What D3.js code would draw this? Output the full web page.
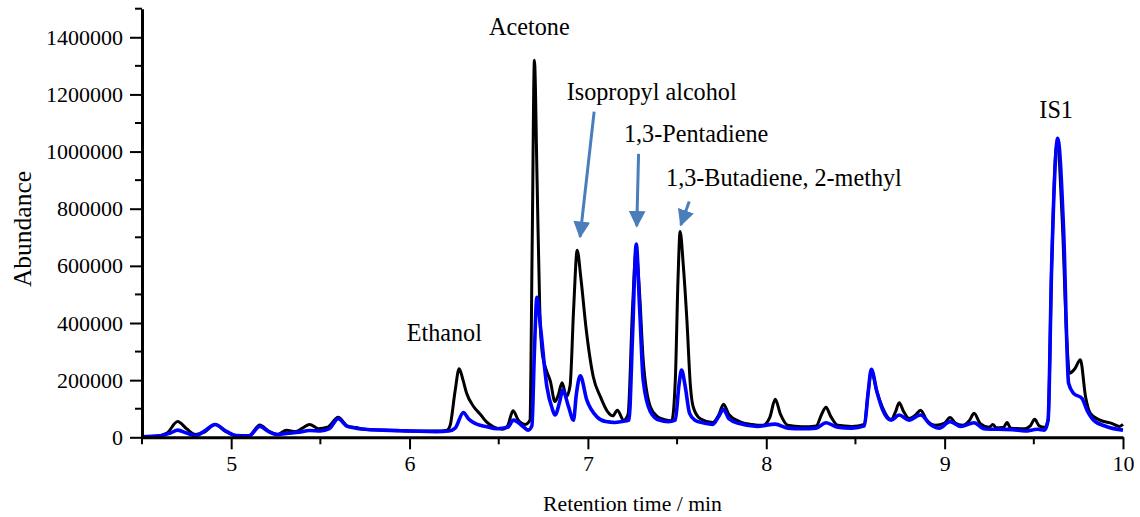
<!DOCTYPE html>
<html>
<head>
<meta charset="utf-8">
<script src="https://cdn.jsdelivr.net/npm/d3@7"></script>
<style>
  html, body { margin: 0; padding: 0; background: #fff; }
  svg { display: block; }
  text { font-family: "Liberation Serif", "DejaVu Serif", "Times New Roman", serif; fill: #000; }
</style>
</head>
<body>
<svg id="chart" width="1140" height="517"></svg>
<script>
// Chromatogram of two samples: retention time (min) vs. abundance
const sampleATime = [4.50,4.58,4.64,4.70,4.75,4.80,4.85,4.91,4.97,5.03,5.10,5.16,5.21,5.26,5.31,5.36,5.40,5.44,5.49,5.54,5.60,5.65,5.70,5.75,5.85,5.95,6.05,6.15,6.21,6.227,6.255,6.278,6.30,6.32,6.36,6.40,6.43,6.47,6.52,6.55,6.58,6.61,6.65,6.675,6.688,6.70,6.715,6.73,6.745,6.77,6.79,6.815,6.835,6.855,6.88,6.90,6.92,6.94,6.96,6.99,7.03,7.07,7.11,7.14,7.165,7.20,7.225,7.25,7.27,7.29,7.31,7.35,7.39,7.43,7.47,7.49,7.505,7.517,7.535,7.555,7.575,7.59,7.63,7.70,7.735,7.76,7.79,7.85,7.92,7.98,8.02,8.05,8.08,8.12,8.20,8.28,8.31,8.335,8.36,8.40,8.48,8.55,8.57,8.59,8.62,8.65,8.70,8.725,8.745,8.77,8.80,8.84,8.865,8.90,8.95,9.00,9.03,9.06,9.10,9.14,9.165,9.20,9.25,9.27,9.29,9.33,9.35,9.37,9.45,9.48,9.505,9.53,9.56,9.58,9.60,9.63,9.66,9.685,9.70,9.73,9.761,9.79,9.817,9.87,9.94,9.98,10.00];
const sampleAAbundance = [3000,4000,15000,55000,30000,10000,18000,45000,20000,6000,6000,43000,22000,10000,25000,20000,32000,45000,30000,35000,70000,40000,34000,28000,25000,23000,22000,22000,25000,40000,160000,240000,200000,154000,107000,78000,55000,37000,28000,40000,93000,60000,45000,60000,700000,1320000,900000,450000,290000,230000,195000,125000,150000,191000,142000,180000,450000,655000,560000,380000,212000,142000,90000,75000,95000,60000,80000,450000,650000,500000,270000,107000,72000,62000,58000,200000,550000,720000,600000,410000,177000,107000,65000,52000,80000,116000,80000,55000,45000,42000,70000,133000,80000,42000,37000,40000,80000,105000,75000,42000,38000,45000,150000,232000,160000,107000,62000,90000,121000,90000,66000,80000,95000,60000,42000,50000,69000,50000,42000,60000,84000,48000,35000,45000,33000,35000,52000,32000,30000,40000,63000,40000,35000,60000,600000,1030000,750000,340000,224000,240000,271000,142000,84000,60000,48000,38000,45000];

const sampleBTime = [4.50,4.60,4.66,4.70,4.75,4.80,4.85,4.91,4.97,5.03,5.10,5.16,5.21,5.26,5.32,5.38,5.44,5.50,5.55,5.60,5.65,5.70,5.75,5.85,5.95,6.05,6.15,6.22,6.256,6.302,6.33,6.349,6.38,6.433,6.49,6.55,6.583,6.638,6.665,6.686,6.70,6.714,6.735,6.77,6.80,6.816,6.84,6.859,6.89,6.919,6.935,6.957,6.994,7.05,7.10,7.15,7.19,7.23,7.25,7.271,7.29,7.31,7.35,7.40,7.45,7.49,7.51,7.525,7.545,7.57,7.60,7.65,7.70,7.735,7.76,7.79,7.85,7.95,8.05,8.12,8.20,8.28,8.335,8.40,8.48,8.55,8.57,8.589,8.62,8.65,8.70,8.745,8.80,8.865,8.92,8.97,9.03,9.09,9.165,9.22,9.30,9.38,9.45,9.52,9.56,9.58,9.60,9.634,9.667,9.695,9.723,9.77,9.798,9.835,9.91,10.00];
const sampleBAbundance = [2000,5000,15000,25000,15000,6000,22000,45000,22000,6000,5000,38000,20000,10000,14000,18000,24000,22000,30000,65000,38000,32000,28000,25000,23000,21000,20000,22000,32000,87000,65000,55000,45000,37000,30000,35000,60000,37000,25000,40000,300000,490000,380000,177000,100000,78000,120000,165000,110000,60000,150000,215000,130000,72000,55000,52000,55000,60000,350000,676000,450000,200000,90000,60000,55000,60000,180000,235000,180000,84000,60000,50000,45000,75000,98000,65000,48000,38000,46000,32000,30000,32000,51000,35000,32000,40000,150000,238000,160000,100000,60000,78000,60000,78000,45000,32000,55000,38000,51000,30000,28000,27000,22000,28000,25000,60000,600000,1046000,725000,189000,154000,136000,95000,60000,37000,25000];

// Axis ticks
const xTickLabels = [5, 6, 7, 8, 9, 10];
const xMinorTicks = [4.5, 5.5, 6.5, 7.5, 8.5, 9.5];
const yTickLabels = [0, 200000, 400000, 600000, 800000, 1000000, 1200000, 1400000];
const yMinorTicks = [100000, 300000, 500000, 700000, 900000, 1100000, 1300000, 1500000];

// Peak names, with label anchors and arrow ends in data units
const peakNames = ["Ethanol", "Acetone", "Isopropyl alcohol", "1,3-Pentadiene", "1,3-Butadiene, 2-methyl", "IS1"];
const labelTime = [5.984, 6.446, 6.881, 7.202, 7.438, 9.531];
const labelAbundance = [338000, 1408000, 1180000, 1034000, 880000, 1116000];
const arrowPeaks = ["Isopropyl alcohol", "1,3-Pentadiene", "1,3-Butadiene, 2-methyl"];
const arrowFrom = [[7.035, 1140000], [7.284, 992000], [7.568, 825000]];
const arrowTo = [[6.956, 702000], [7.274, 739000], [7.521, 743000]];

const svg = d3.select("#chart");
const x = d3.scaleLinear().domain([4.5, 10]).range([142, 1123]);
const y = d3.scaleLinear().domain([0, 1500000]).range([437.3, 8.7]);

// arrowhead marker
svg.append("defs").append("marker")
  .attr("id", "head")
  .attr("viewBox", "0 0 10 10")
  .attr("refX", 9).attr("refY", 5)
  .attr("markerWidth", 5.6).attr("markerHeight", 5.6)
  .attr("markerUnits", "strokeWidth")
  .attr("orient", "auto")
  .append("path")
  .attr("d", "M0,0 L10,5 L0,10 Z")
  .attr("fill", "#4a7ebb");

const line = d3.line()
  .x(d => x(d[0]))
  .y(d => y(d[1]))
  .curve(d3.curveMonotoneX);

const seriesA = d3.zip(sampleATime, sampleAAbundance);
const seriesB = d3.zip(sampleBTime, sampleBAbundance);

svg.append("path")
  .datum(seriesA)
  .attr("d", line)
  .attr("fill", "none")
  .attr("stroke", "#000")
  .attr("stroke-width", 3)
  .attr("stroke-linejoin", "round");

svg.append("path")
  .datum(seriesB)
  .attr("d", line)
  .attr("fill", "none")
  .attr("stroke", "#0000ff")
  .attr("stroke-width", 3.6)
  .attr("stroke-linejoin", "round");

// x axis
const xAxis = svg.append("g").attr("transform", `translate(0,${y(0)})`);
xAxis.call(d3.axisBottom(x).tickValues(xTickLabels).tickFormat(d3.format("d"))
  .tickSize(12).tickSizeOuter(0).tickPadding(6));
xAxis.append("g").selectAll("line").data(xMinorTicks).join("line")
  .attr("x1", d => x(d)).attr("x2", d => x(d))
  .attr("y1", 0).attr("y2", 7)
  .attr("stroke", "#000").attr("stroke-width", 2);

// y axis
const yAxis = svg.append("g").attr("transform", `translate(${x(4.5)},0)`);
yAxis.call(d3.axisLeft(y).tickValues(yTickLabels).tickFormat(d3.format("d"))
  .tickSize(12).tickSizeOuter(0).tickPadding(7));
yAxis.append("g").selectAll("line").data(yMinorTicks).join("line")
  .attr("y1", d => y(d)).attr("y2", d => y(d))
  .attr("x1", 0).attr("x2", -7)
  .attr("stroke", "#000").attr("stroke-width", 2);

svg.selectAll(".domain").attr("stroke", "#000").attr("stroke-width", 3);
svg.selectAll(".tick line").attr("stroke", "#000").attr("stroke-width", 2);
svg.selectAll(".tick text")
  .attr("font-size", 22)
  .attr("fill", "#000");

// axis titles
svg.append("text")
  .attr("x", (x(4.5) + x(10)) / 2)
  .attr("y", 510.5)
  .attr("text-anchor", "middle")
  .attr("font-size", 21.7)
  .text("Retention time / min");

svg.append("text")
  .attr("transform", `translate(30.5,${(y(0) + y(1500000)) / 2 + 6}) rotate(-90)`)
  .attr("text-anchor", "middle")
  .attr("font-size", 25.5)
  .text("Abundance");

// peak labels
svg.append("g").selectAll("text").data(peakNames).join("text")
  .attr("x", (d, i) => x(labelTime[i]))
  .attr("y", (d, i) => y(labelAbundance[i]))
  .attr("font-size", 24.2)
  .text(d => d);

// arrows
svg.append("g").selectAll("line").data(arrowPeaks).join("line")
  .attr("x1", (d, i) => x(arrowFrom[i][0]))
  .attr("y1", (d, i) => y(arrowFrom[i][1]))
  .attr("x2", (d, i) => x(arrowTo[i][0]))
  .attr("y2", (d, i) => y(arrowTo[i][1]))
  .attr("stroke", "#4a7ebb")
  .attr("stroke-width", 3)
  .attr("marker-end", "url(#head)");
</script>
</body>
</html>
